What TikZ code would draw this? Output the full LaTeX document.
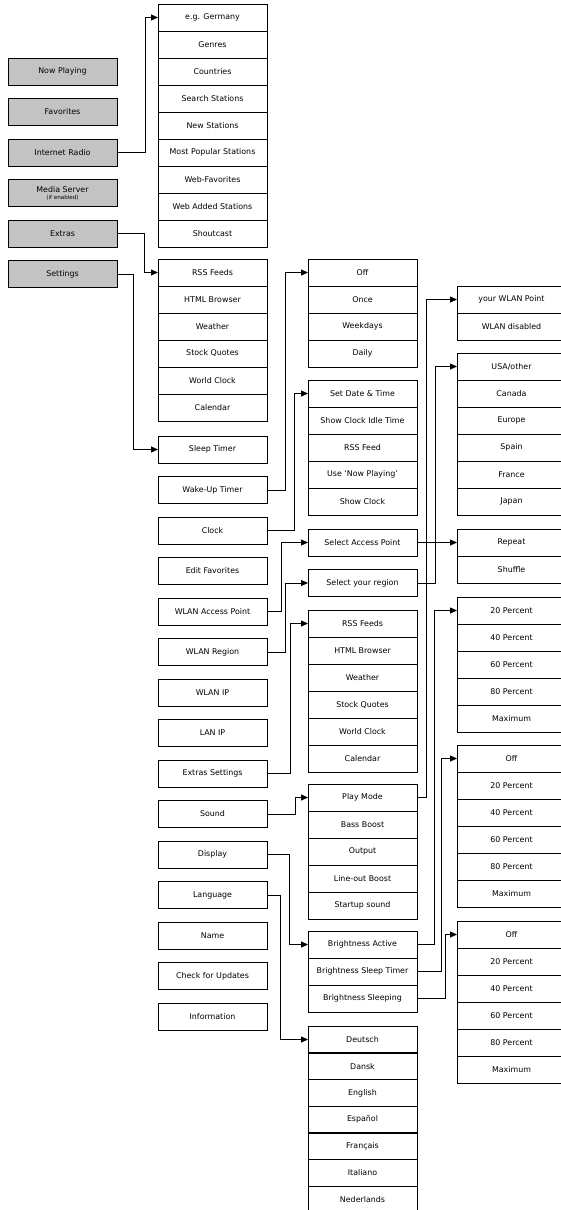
\documentclass[tikz,border=0pt]{standalone}
\usepackage{fontspec}
\setmainfont{DejaVu Sans}
\usetikzlibrary{arrows.meta}

\definecolor{menugray}{RGB}{195,195,195}

\tikzset{
    menubox/.style={draw, line width=0.8pt, minimum width=109pt, minimum height=27pt,
        inner sep=0pt, outer sep=0pt, font=\fontsize{7.9}{9}\selectfont},
    mainbox/.style={menubox, fill=menugray, line width=0.9pt},
    conn/.style={line width=0.8pt, -{Triangle[length=7pt,width=6pt]}}
}

\begin{document}
\begin{tikzpicture}[x=1pt, y=-1pt]
    % Page frame
    \useasboundingbox (0,0) rectangle (561,1210);
    \clip (0,0) rectangle (561,1210);

    % Main menu (grey)
    \node[mainbox] (nowplay) at (62.5,71.5) {Now Playing};
    \node[mainbox] (favs) at (62.5,112) {Favorites};
    \node[mainbox] (irad) at (62.5,152.5) {Internet Radio};
    \node[mainbox, align=center] (media) at (62.5,193)
        {Media Server\\[-2pt]{\fontsize{5.6}{6}\selectfont (if enabled)}};
    \node[mainbox] (extras) at (62.5,233.5) {Extras};
    \node[mainbox] (settings) at (62.5,274) {Settings};

    % Internet Radio list
    \foreach \t [count=\i] in {e.g. Germany, Genres, Countries, Search Stations,
        New Stations, Most Popular Stations, Web-Favorites, Web Added Stations, Shoutcast}
        \node[menubox] (ir\i) at (212.5,{17.5+27*(\i-1)}) {\t};

    % Extras list
    \foreach \t [count=\i] in {RSS Feeds, HTML Browser, Weather, Stock Quotes,
        World Clock, Calendar}
        \node[menubox] (ex\i) at (212.5,{272.5+27*(\i-1)}) {\t};

    % Settings entries
    \foreach \n/\t [count=\i from 0] in {sleep/Sleep Timer, wakeup/Wake-Up Timer,
        clock/Clock, editfav/Edit Favorites, wlanap/WLAN Access Point,
        wlanreg/WLAN Region, wlanip/WLAN IP, lanip/LAN IP, xset/Extras Settings,
        sound/Sound, display/Display, lang/Language, name/Name,
        update/Check for Updates, info/Information}
        \node[menubox] (\n) at (212.5,{449.5+40.5*\i}) {\t};

    % Wake-Up Timer list
    \foreach \t [count=\i] in {Off, Once, Weekdays, Daily}
        \node[menubox] (wake\i) at (362.5,{272.5+27*(\i-1)}) {\t};

    % Clock list
    \foreach \t [count=\i] in {Set Date \& Time, Show Clock Idle Time, RSS Feed,
        Use ‘Now Playing’, Show Clock}
        \node[menubox] (clk\i) at (362.5,{393.5+27*(\i-1)}) {\t};

    % WLAN entries
    \node[menubox] (selap) at (362.5,542.5) {Select Access Point};
    \node[menubox] (selreg) at (362.5,583) {Select your region};

    % Extras Settings list
    \foreach \t [count=\i] in {RSS Feeds, HTML Browser, Weather, Stock Quotes,
        World Clock, Calendar}
        \node[menubox] (xs\i) at (362.5,{623.5+27*(\i-1)}) {\t};

    % Sound list
    \foreach \t [count=\i] in {Play Mode, Bass Boost, Output, Line-out Boost,
        Startup sound}
        \node[menubox] (snd\i) at (362.5,{797.5+27*(\i-1)}) {\t};

    % Display list
    \foreach \t [count=\i] in {Brightness Active, Brightness Sleep Timer,
        Brightness Sleeping}
        \node[menubox] (disp\i) at (362.5,{944.5+27*(\i-1)}) {\t};

    % Language list
    \foreach \t [count=\i] in {Deutsch, Dansk, English, Español, Français,
        Italiano, Nederlands}
        \node[menubox] (lng\i) at (362.5,{1039.5+26.7*(\i-1)}) {\t};

    % Fourth column
    \foreach \t [count=\i] in {your WLAN Point, WLAN disabled}
        \node[menubox] (ap\i) at (511.5,{299.5+27*(\i-1)}) {\t};
    \foreach \t [count=\i] in {USA/other, Canada, Europe, Spain, France, Japan}
        \node[menubox] (reg\i) at (511.5,{366.5+27*(\i-1)}) {\t};
    \foreach \t [count=\i] in {Repeat, Shuffle}
        \node[menubox] (pm\i) at (511.5,{542.5+27*(\i-1)}) {\t};
    \foreach \t [count=\i] in {20 Percent, 40 Percent, 60 Percent, 80 Percent, Maximum}
        \node[menubox] (ba\i) at (511.5,{610.5+27*(\i-1)}) {\t};
    \foreach \t [count=\i] in {Off, 20 Percent, 40 Percent, 60 Percent, 80 Percent, Maximum}
        \node[menubox] (bst\i) at (511.5,{758.5+27*(\i-1)}) {\t};
    \foreach \t [count=\i] in {Off, 20 Percent, 40 Percent, 60 Percent, 80 Percent, Maximum}
        \node[menubox] (bsl\i) at (511.5,{934.5+27*(\i-1)}) {\t};

    % Connectors
    \draw[conn] (irad.east) -- ++(28,0) |- (ir1.west);
    \draw[conn] (extras.east) -- ++(27,0) |- (ex1.west);
    \draw[conn] (settings.east) -- ++(16,0) |- (sleep.west);
    \draw[conn] (wakeup.east) -- ++(18,0) |- (wake1.west);
    \draw[conn] (clock.east) -- ++(27,0) |- (clk1.west);
    \draw[conn] (wlanap.east) -- ++(14,0) |- (selap.west);
    \draw[conn] (wlanreg.east) -- ++(18.5,0) |- (selreg.west);
    \draw[conn] (xset.east) -- ++(23,0) |- (xs1.west);
    \draw[conn] (sound.east) -- ++(28.5,0) |- (snd1.west);
    \draw[conn] (display.east) -- ++(22,0) |- (disp1.west);
    \draw[conn] (lang.east) -- ++(13,0) |- (lng1.west);
    \draw[conn] (selap.east) -- ++(9,0) |- (ap1.west);
    \draw[conn] (selreg.east) -- ++(18,0) |- (reg1.west);
    \draw[conn] (snd1.east) -- ++(9,0) |- (pm1.west);
    \draw[conn] (disp1.east) -- ++(17.5,0) |- (ba1.west);
    \draw[conn] (disp2.east) -- ++(24,0) |- (bst1.west);
    \draw[conn] (disp3.east) -- ++(28.5,0) |- (bsl1.west);
\end{tikzpicture}
\end{document}
